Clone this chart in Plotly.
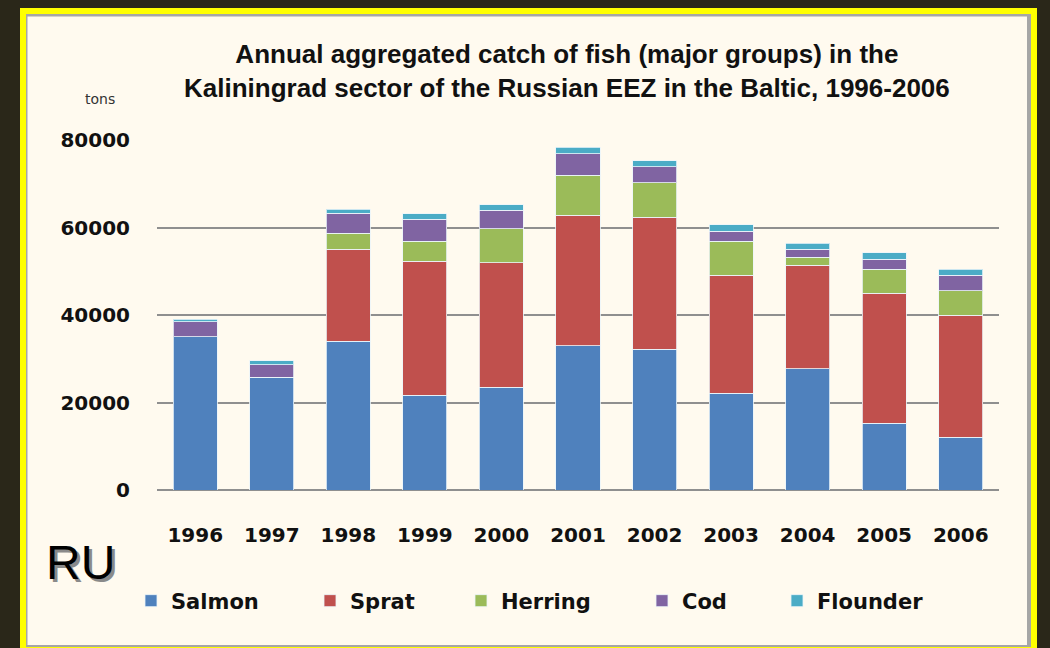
import plotly.graph_objects as go

years = ["1996", "1997", "1998", "1999", "2000", "2001", "2002", "2003", "2004", "2005", "2006"]
salmon = [35000, 25800, 34000, 21700, 23500, 33000, 32200, 22100, 27700, 15300, 12100]
sprat = [0, 0, 21000, 30600, 28400, 29800, 30200, 27000, 23700, 29700, 27900]
herring = [0, 0, 3700, 4600, 7800, 9100, 7800, 7800, 1800, 5500, 5500]
cod = [3500, 2800, 4600, 5000, 4200, 5000, 3700, 2300, 1800, 2300, 3600]
flounder = [500, 900, 900, 1300, 1300, 1400, 1400, 1400, 1400, 1400, 1400]

series = [
    ("Salmon", salmon, "#4F81BD"),
    ("Sprat", sprat, "#C0504D"),
    ("Herring", herring, "#9BBB59"),
    ("Cod", cod, "#8064A2"),
    ("Flounder", flounder, "#4BACC6"),
]
y_ticks = [0, 20000, 40000, 60000, 80000]

W, H = 1050, 648
L, R, T, B = 157, 999, 140, 490

# legend entry left positions (px) for each series
legend_x = [131, 310, 461, 642, 777]


def px(x):
    return (x - L) / (R - L)


def py(y):
    return (B - y) / (B - T)


fig = go.Figure()
legend_layout = {}
leg_font = dict(family="DejaVu Sans", size=21, color="#111111", weight="bold")
for i, (name, vals, col) in enumerate(series):
    lname = "legend" if i == 0 else f"legend{i + 1}"
    fig.add_trace(go.Bar(
        x=years, y=vals, name=name, legend=lname,
        marker=dict(color=col, line=dict(color="rgba(235,245,250,0.8)", width=1)),
    ))
    legend_layout[lname] = dict(
        orientation="h", x=px(legend_x[i]), xanchor="left", y=py(601), yanchor="middle",
        font=leg_font, bgcolor="rgba(0,0,0,0)",
    )

tick_font = dict(family="DejaVu Sans", size=20, color="#111111", weight="bold")

fig.update_layout(
    width=W, height=H,
    barmode="stack", bargap=0.425,
    paper_bgcolor="#2a2719",
    plot_bgcolor="rgba(0,0,0,0)",
    margin=dict(l=L, r=W - R, t=T, b=H - B, pad=0),
    showlegend=True,
    **legend_layout,
    xaxis=dict(
        type="category", tickfont=tick_font, ticks="outside", ticklen=27,
        tickcolor="rgba(0,0,0,0)", showgrid=False, showline=False, zeroline=False,
    ),
    yaxis=dict(
        range=[0, 80000], tickvals=y_ticks, ticktext=[str(v) for v in y_ticks],
        tickfont=tick_font, ticks="outside", ticklen=22, tickcolor="rgba(0,0,0,0)",
        showgrid=True, gridcolor="#8f8f8f", gridwidth=2,
        zeroline=True, zerolinecolor="#8f8f8f", zerolinewidth=2, showline=False,
    ),
    shapes=[
        dict(type="rect", xref="paper", yref="paper", layer="below",
             x0=px(20), x1=px(1037), y0=py(8), y1=py(670),
             fillcolor="#ffff00", line=dict(width=0)),
        dict(type="rect", xref="paper", yref="paper", layer="below",
             x0=px(26), x1=px(1031), y0=py(14), y1=py(647),
             fillcolor="#a6a6a6", line=dict(width=0)),
        dict(type="rect", xref="paper", yref="paper", layer="below",
             x0=px(27.5), x1=px(1027), y0=py(16.5), y1=py(645),
             fillcolor="#fffaef", line=dict(width=0)),
    ],
    annotations=[
        dict(text="Annual aggregated catch of fish (major groups) in the<br>Kaliningrad sector of the Russian EEZ in the Baltic, 1996-2006",
             xref="paper", yref="paper", x=px(567), y=py(71), xanchor="center", yanchor="middle",
             showarrow=False, align="center",
             font=dict(family="Liberation Sans", size=26, color="#111111", weight="bold")),
        dict(text="tons", xref="paper", yref="paper", x=px(100), y=py(99),
             xanchor="center", yanchor="middle", showarrow=False,
             font=dict(family="DejaVu Sans", size=14, color="#333333")),
        dict(text="RU", xref="paper", yref="paper", x=px(80), y=py(562),
             xanchor="center", yanchor="middle", showarrow=False,
             font=dict(family="Liberation Sans", size=48, color="#000000",
                       shadow="3px 3px 0px #8a8a8a")),
    ],
)

fig.write_html("out.html", config={"displayModeBar": False},
               post_script="document.body.style.margin='0';")
